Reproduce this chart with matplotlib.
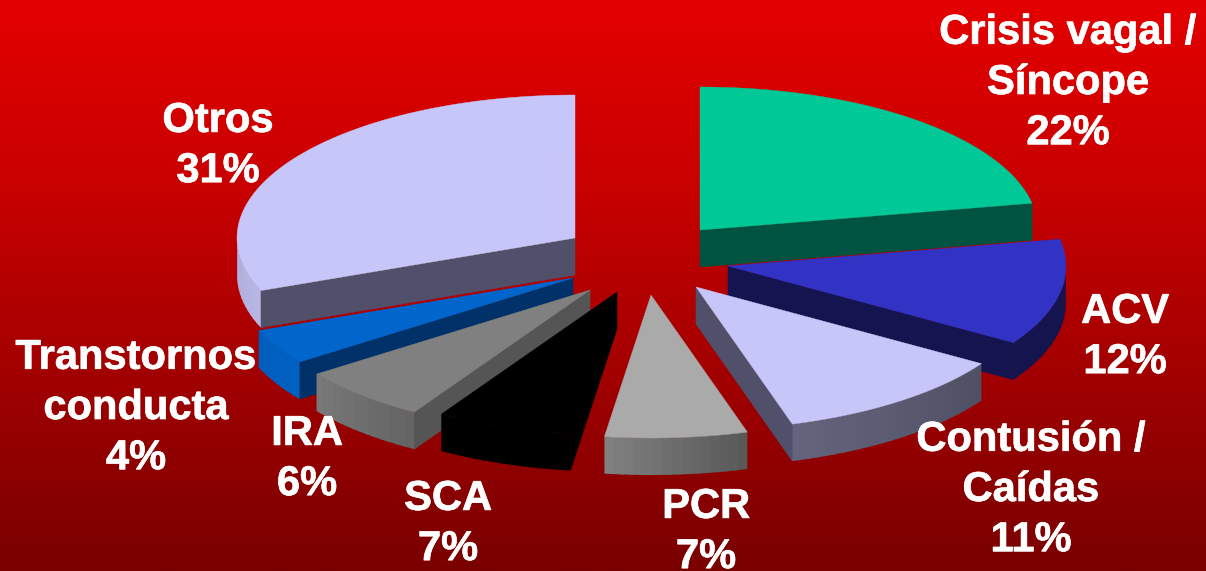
import numpy as np
import matplotlib
matplotlib.use("Agg")
from matplotlib import pyplot as plt
from matplotlib import patheffects
from matplotlib.colors import LinearSegmentedColormap, to_rgb
from matplotlib.patches import Polygon

plt.rcParams['font.family'] = ['Liberation Sans', 'DejaVu Sans']

# data, clockwise from 12 o'clock
categories = ['Crisis vagal /\nSíncope', 'ACV', 'Contusión /\nCaídas', 'PCR', 'SCA', 'IRA',
              'Transtornos\nconducta', 'Otros']
percent_labels = [22, 12, 11, 7, 7, 6, 4, 31]
values = [22, 12, 11.4, 6.8, 6.5, 6.3, 4, 31]

# styling
top_colors = ['#00c896', '#3232c4', '#c6c6f8', '#aaaaaa', '#000000', '#808080', '#0066cc', '#c6c6f8']
face_colors = ['#005241', '#141450', '#50506a', '#555555', '#000000', '#555555', '#003269', '#50506a']
# apex of each slice, pixels
apex_x = [700, 728, 696, 651, 617, 590, 573, 575]
apex_y = [230, 266, 287, 295, 292, 290, 278, 238]
label_x = [1068, 1125, 1031, 706, 448, 307, 136, 218]
label_y = [83, 337, 490, 532, 524, 459, 408, 146]

RX, RY, DEPTH = 338, 143, 37
# brightness of the outer wall against the angle
shade_angle = [-180, -144, -122, -97, -72, -32, 0]
shade_value = [0.88, 0.95, 0.78, 0.75, 0.50, 0.40, 0.40]

fig = plt.figure(figsize=(12.06, 5.71), dpi=100)
ax = fig.add_axes([0, 0, 1, 1])
ax.set_xlim(0, 1206)
ax.set_ylim(571, 0)
ax.axis('off')

bg = LinearSegmentedColormap.from_list('bg', [(0, '#e40000'), (0.333, '#c80000'), (0.84, '#8c0000'), (1, '#7a0000')])
ax.imshow(np.linspace(0, 1, 256).reshape(-1, 1), cmap=bg, extent=(0, 1206, 571, 0), aspect='auto', zorder=0)


def rim(cx, cy, angles, drop=0):
    a = np.radians(angles)
    return np.column_stack([cx + RX * np.cos(a), cy - RY * np.sin(a) + drop])


def draw_slice(cx, cy, start, end, top, face, z):
    # radial cut faces that look down at the viewer
    for ang, normal in ((start, start + 90), (end, end - 90)):
        if np.sin(np.radians(normal)) < -1e-6:
            p = rim(cx, cy, [ang])[0]
            pts = [(cx, cy), p, (p[0], p[1] + DEPTH), (cx, cy + DEPTH)]
            ax.add_patch(Polygon(pts, fc=face, ec=face, lw=0.4, zorder=z))
    # outer wall, in short strips that overlap so no seams show
    hi, lo = min(start, 0), max(end, -180)
    if hi > lo:
        steps = np.linspace(hi, lo, max(int((hi - lo) / 1.5), 2))
        base = np.array(to_rgb(top))
        for a0, a1 in zip(steps[:-1], steps[1:]):
            s = np.interp((a0 + a1) / 2, shade_angle, shade_value)
            c = tuple(base * s)
            a2 = max(a1 - 0.6, lo)
            pts = np.vstack([rim(cx, cy, [a0, a2]), rim(cx, cy, [a2, a0], DEPTH)])
            ax.add_patch(Polygon(pts, fc=c, ec='none', zorder=z + 0.1))
    arc = rim(cx, cy, np.linspace(start, end, 120))
    ax.add_patch(Polygon(np.vstack([[cx, cy], arc]), fc=top, ec=top, lw=0.3, zorder=z + 0.2))


fractions = np.array(values) / sum(values) * 360
edges = 90 - np.concatenate([[0], np.cumsum(fractions)])
mids = (edges[:-1] + edges[1:]) / 2
# back slices first
order = np.argsort(-np.sin(np.radians(mids)))
for z, i in enumerate(order):
    draw_slice(apex_x[i], apex_y[i], edges[i], edges[i + 1], top_colors[i], face_colors[i], z + 1)

for name, v, x, y in zip(categories, percent_labels, label_x, label_y):
    t = ax.text(x, y, f'{name}\n{v}%', color='white', fontsize=30, fontweight='bold',
                ha='center', va='center', multialignment='center', linespacing=1.33, zorder=50)
    t.set_path_effects([patheffects.withStroke(linewidth=0.5, foreground='white')])

fig.savefig('out.png', dpi=100)
